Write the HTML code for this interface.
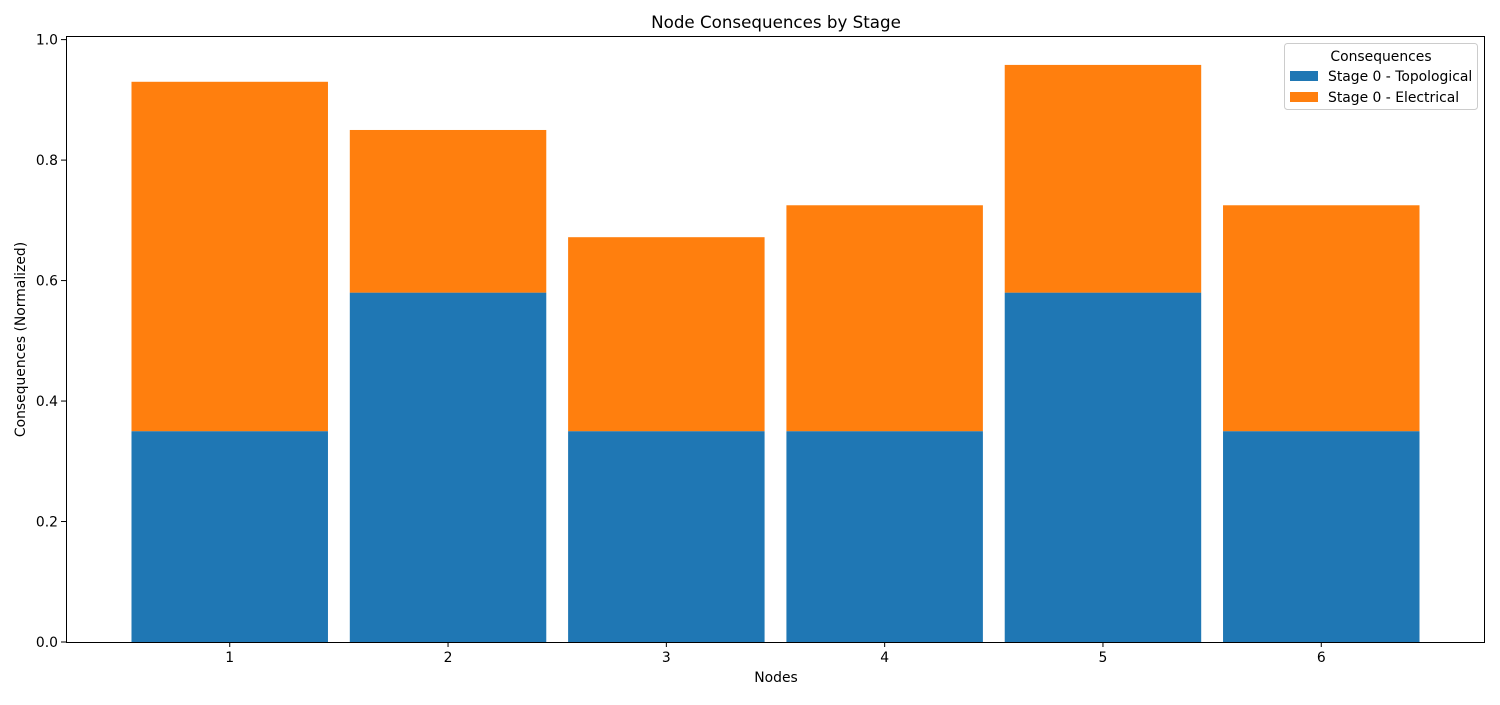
<!DOCTYPE html>
<html><head><meta charset="utf-8"><style>
body{margin:0;background:#fff;}
svg text{font-family:"DejaVu Sans","Liberation Sans",sans-serif;fill:#000;}
</style></head><body>
<svg id="chart" width="1500" height="700">
<rect width="1500" height="700" fill="#fff"/>
<text x="776" y="28" font-size="16.7" text-anchor="middle">Node Consequences by Stage</text>
<g id="bars"></g>
<g id="axes"></g>
<text x="776" y="682" font-size="13.9" text-anchor="middle">Nodes</text>
<text transform="translate(25,339.5) rotate(-90)" font-size="13.9" text-anchor="middle">Consequences (Normalized)</text>
<g>
<rect x="1284.5" y="43.5" width="193" height="66" rx="3" fill="#fff" fill-opacity="0.8" stroke="#ccc"/>
<text x="1381" y="61" font-size="13.9" text-anchor="middle">Consequences</text>
<rect x="1290" y="71" width="28" height="10" fill="#1f77b4"/>
<text x="1328" y="81" font-size="13.9">Stage 0 - Topological</text>
<rect x="1290" y="92" width="28" height="10" fill="#ff7f0e"/>
<text x="1328" y="102" font-size="13.9">Stage 0 - Electrical</text>
</g>
</svg>
<script>
const categories = ["1","2","3","4","5","6"];
const topological = [0.35,0.58,0.35,0.35,0.58,0.35];
const electrical = [0.58,0.27,0.322,0.375,0.378,0.375];
const yTicks = [0,0.2,0.4,0.6,0.8,1.0];
const yTickLabels = ["0.0","0.2","0.4","0.6","0.8","1.0"];

const L=66,R=1485,T=36,B=642;
const xMin=0.25,xMax=6.75,yMin=0,yMax=1.006;
const xs=v=>L+(v-xMin)/(xMax-xMin)*(R-L);
const ys=v=>B-(v-yMin)/(yMax-yMin)*(B-T);
const NS="http://www.w3.org/2000/svg";
const bars=document.getElementById('bars');
const axes=document.getElementById('axes');
function mk(tag,attrs,parent){const e=document.createElementNS(NS,tag);for(const k in attrs)e.setAttribute(k,attrs[k]);parent.appendChild(e);return e;}
const bw=0.9;
categories.forEach((c,i)=>{
  const x0=xs(i+1-bw/2),x1=xs(i+1+bw/2);
  const t=topological[i],e=electrical[i];
  const r1=mk('rect',{x:x0,y:ys(t),width:x1-x0,height:ys(0)-ys(t),fill:'#1f77b4'},bars);
  
  
  const r2=mk('rect',{x:x0,y:ys(t+e),width:x1-x0,height:ys(t)-ys(t+e),fill:'#ff7f0e'},bars);
  
  
  const tk=mk('line',{x1:xs(i+1),x2:xs(i+1),y1:B,y2:B+5,stroke:'#000','stroke-width':1},axes);
  
  
  const tl=mk('text',{x:xs(i+1),y:B+20,'font-size':13.9,'text-anchor':'middle'},axes);
  tl.textContent=c;
  
  
});
yTicks.forEach((v,i)=>{
  const tk=mk('line',{x1:L-5,x2:L,y1:ys(v),y2:ys(v),stroke:'#000','stroke-width':1},axes);
  
  
  const tl=mk('text',{x:L-8,y:ys(v)+5,'font-size':13.9,'text-anchor':'end'},axes);
  tl.textContent=yTickLabels[i];
  
  
});
const fr=mk('rect',{x:L+0.5,y:T+0.5,width:R-L-1,height:B-T,fill:'none',stroke:'#000','stroke-width':1},axes);


</script>
</body></html>
